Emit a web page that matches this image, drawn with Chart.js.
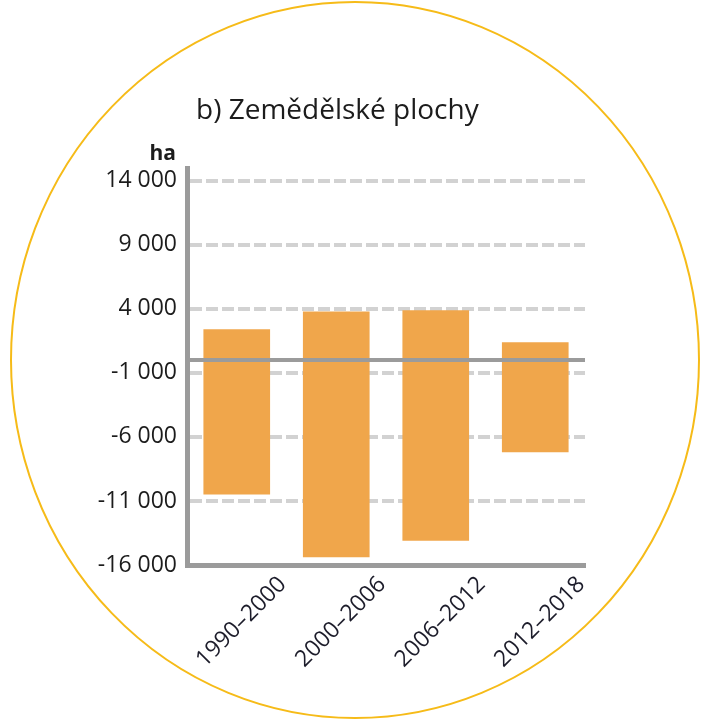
<!DOCTYPE html>
<html>
<head>
<meta charset="utf-8">
<script src="https://cdn.jsdelivr.net/npm/chart.js@4"></script>
<style>
html,body{margin:0;padding:0;background:#fff;}
#wrap{width:704px;height:720px;position:relative;}
</style>
</head>
<body>
<div id="wrap"><canvas id="c" width="704" height="720"></canvas></div>
<script>
const categories = ["1990–2000", "2000–2006", "2006–2012", "2012–2018"];
const gains = [2400, 3800, 3900, 1400];
const losses = [-10500, -15400, -14100, -7200];
const yTicks = [-16000, -11000, -6000, -1000, 4000, 9000, 14000];
const titleText = "b) Zemědělské plochy";
const unitText = "ha";

const FONT = "'Open Sans', 'DejaVu Sans', sans-serif";
const fmt = v => {
  const s = Math.abs(v).toString().replace(/\B(?=(\d{3})+(?!\d))/g, " ");
  return (v < 0 ? "-" : "") + s;
};

const decor = {
  id: 'decor',
  beforeDraw(chart) {
    const ctx = chart.ctx;
    ctx.save();
    ctx.fillStyle = '#fff';
    ctx.fillRect(0, 0, chart.width, chart.height);
    ctx.restore();
  },
  afterDatasetsDraw(chart) {
    const ctx = chart.ctx;
    const y = chart.scales.y;
    const area = chart.chartArea;
    const y0 = y.getPixelForValue(0);
    ctx.save();
    ctx.strokeStyle = '#9b9b9b';
    ctx.lineWidth = 4;
    ctx.beginPath();
    ctx.moveTo(area.left, y0);
    ctx.lineTo(area.right, y0);
    ctx.stroke();
    ctx.restore();
  },
  afterDraw(chart) {
    const ctx = chart.ctx;
    ctx.save();
    ctx.strokeStyle = '#f6bb18';
    ctx.lineWidth = 2;
    ctx.beginPath();
    ctx.ellipse(355, 360, 344, 358, 0, 0, Math.PI * 2);
    ctx.stroke();
    ctx.fillStyle = '#1c1c1c';
    ctx.font = "28px " + FONT;
    ctx.textAlign = 'left';
    ctx.textBaseline = 'alphabetic';
    ctx.fillText(titleText, 196, 119);
    ctx.font = "bold 21px " + FONT;
    ctx.textAlign = 'right';
    ctx.fillText(unitText, 176, 160);
    ctx.restore();
  }
};

new Chart(document.getElementById('c'), {
  type: 'bar',
  data: {
    labels: categories,
    datasets: [{
      data: categories.map((c, i) => [losses[i], gains[i]]),
      backgroundColor: '#f0a64b',
      borderWidth: 0,
      barPercentage: 0.67,
      categoryPercentage: 1.0
    }]
  },
  options: {
    responsive: false,
    animation: false,
    devicePixelRatio: 1,
    layout: { padding: { top: 168, right: 119, left: 0, bottom: 0 } },
    plugins: { legend: { display: false }, tooltip: { enabled: false }, title: { display: false } },
    scales: {
      x: {
        grid: { display: false, drawTicks: false },
        border: { display: true, color: '#9b9b9b', width: 5 },
        ticks: {
          color: '#1c1c2a',
          font: { family: FONT, size: 23 },
          minRotation: 45, maxRotation: 45,
          labelOffset: 46,
          padding: 6,
          autoSkip: false
        },
        afterFit(s) { s.height = 155; }
      },
      y: {
        min: -16000, max: 15000,
        afterBuildTicks(s) { s.ticks = yTicks.map(v => ({ value: v })); },
        grid: { color: '#d2d2d2', lineWidth: 4, drawTicks: false },
        border: { display: true, color: '#9b9b9b', width: 5, dash: [12, 4] },
        ticks: {
          color: '#1c1c1c',
          font: { family: FONT, size: 23 },
          padding: 10,
          callback: v => fmt(v)
        },
        afterFit(s) { s.width = 187; }
      }
    }
  },
  plugins: [decor]
});
</script>
</body>
</html>
